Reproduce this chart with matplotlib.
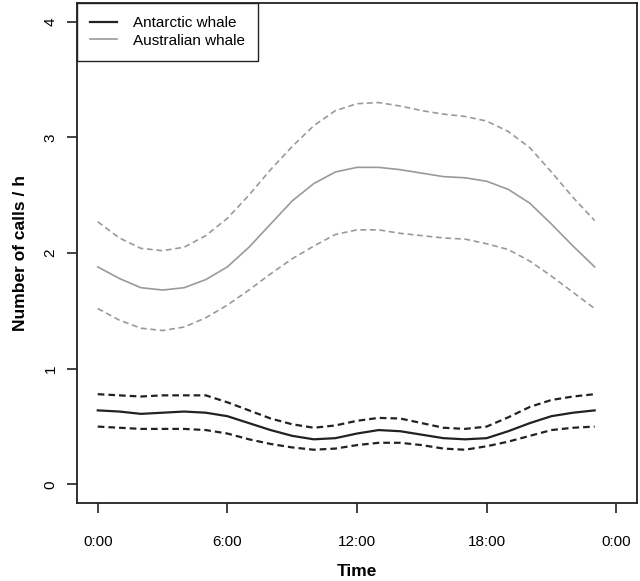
import matplotlib
matplotlib.use('Agg')
import matplotlib.pyplot as plt

# hora del dia (0..23)
horas = list(range(24))

# ballena antartica: media e intervalo
antartica_media = [0.64, 0.63, 0.61, 0.62, 0.63, 0.62, 0.59, 0.53, 0.47, 0.42, 0.39, 0.40,
                   0.44, 0.47, 0.46, 0.43, 0.40, 0.39, 0.40, 0.46, 0.53, 0.59, 0.62, 0.64]
antartica_sup = [0.78, 0.77, 0.76, 0.77, 0.77, 0.77, 0.71, 0.64, 0.57, 0.52, 0.49, 0.51,
                 0.55, 0.575, 0.57, 0.53, 0.49, 0.48, 0.50, 0.58, 0.67, 0.73, 0.76, 0.78]
antartica_inf = [0.50, 0.49, 0.48, 0.48, 0.48, 0.47, 0.44, 0.39, 0.35, 0.32, 0.30, 0.31,
                 0.34, 0.36, 0.36, 0.34, 0.31, 0.30, 0.33, 0.37, 0.42, 0.47, 0.49, 0.50]

# ballena australiana: media e intervalo
australiana_media = [1.88, 1.78, 1.70, 1.68, 1.70, 1.77, 1.88, 2.05, 2.25, 2.45, 2.60, 2.70,
                     2.74, 2.74, 2.72, 2.69, 2.66, 2.65, 2.62, 2.55, 2.43, 2.25, 2.06, 1.88]
australiana_sup = [2.27, 2.13, 2.04, 2.02, 2.05, 2.15, 2.30, 2.50, 2.72, 2.92, 3.10, 3.23,
                   3.29, 3.30, 3.27, 3.23, 3.20, 3.18, 3.14, 3.05, 2.91, 2.70, 2.48, 2.28]
australiana_inf = [1.52, 1.42, 1.35, 1.33, 1.36, 1.44, 1.55, 1.68, 1.82, 1.95, 2.06, 2.16,
                   2.20, 2.20, 2.17, 2.15, 2.13, 2.12, 2.08, 2.03, 1.93, 1.80, 1.66, 1.52]

ticks_x = [0, 6, 12, 18, 24]
etiquetas_x = ["0:00", "6:00", "12:00", "18:00", "0:00"]
ticks_y = [0, 1, 2, 3, 4]

plt.rcParams['font.family'] = ['Liberation Sans', 'DejaVu Sans']

fig = plt.figure(figsize=(6.4, 5.81), dpi=100)
ax = fig.add_axes([0.1203, 0.1343, 0.8750, 0.8605])

negro = "#222222"
gris = "#9a9a9a"
ax.plot(horas, antartica_media, color=negro, lw=1.6, label="Antarctic whale")
ax.plot(horas, antartica_sup, color=negro, lw=1.6, ls=(0, (3, 1.8)))
ax.plot(horas, antartica_inf, color=negro, lw=1.6, ls=(0, (3, 1.8)))
ax.plot(horas, australiana_media, color=gris, lw=1.2, label="Australian whale")
ax.plot(horas, australiana_sup, color=gris, lw=1.2, ls=(0, (3.5, 2.2)))
ax.plot(horas, australiana_inf, color=gris, lw=1.2, ls=(0, (3.5, 2.2)))

ax.set_xlim(-0.96, 24.96)
ax.set_ylim(-0.16, 4.16)
ax.set_xticks(ticks_x)
ax.set_xticklabels(etiquetas_x)
ax.set_yticks(ticks_y)
ax.set_yticklabels([str(t) for t in ticks_y], rotation=90, va="center")
ax.tick_params(axis="both", length=7, width=1.2, labelsize=11, color=negro)
ax.tick_params(axis="x", pad=16)
ax.tick_params(axis="y", pad=7)

for s in ax.spines.values():
    s.set_linewidth(1.3)
    s.set_color(negro)

ax.set_xlabel("Time", fontsize=12.5, fontweight="bold", labelpad=11)
ax.set_ylabel("Number of calls / h", fontsize=12.5, fontweight="bold", labelpad=11)

leg = ax.legend(loc="upper left", borderaxespad=0, fontsize=11, handlelength=1.8,
                handletextpad=1.0, borderpad=0.85, labelspacing=0.25, fancybox=False,
                framealpha=1)
leg.get_frame().set_edgecolor(negro)
leg.get_frame().set_linewidth(1.0)

plt.savefig("out.png", dpi=100)
plt.close()
